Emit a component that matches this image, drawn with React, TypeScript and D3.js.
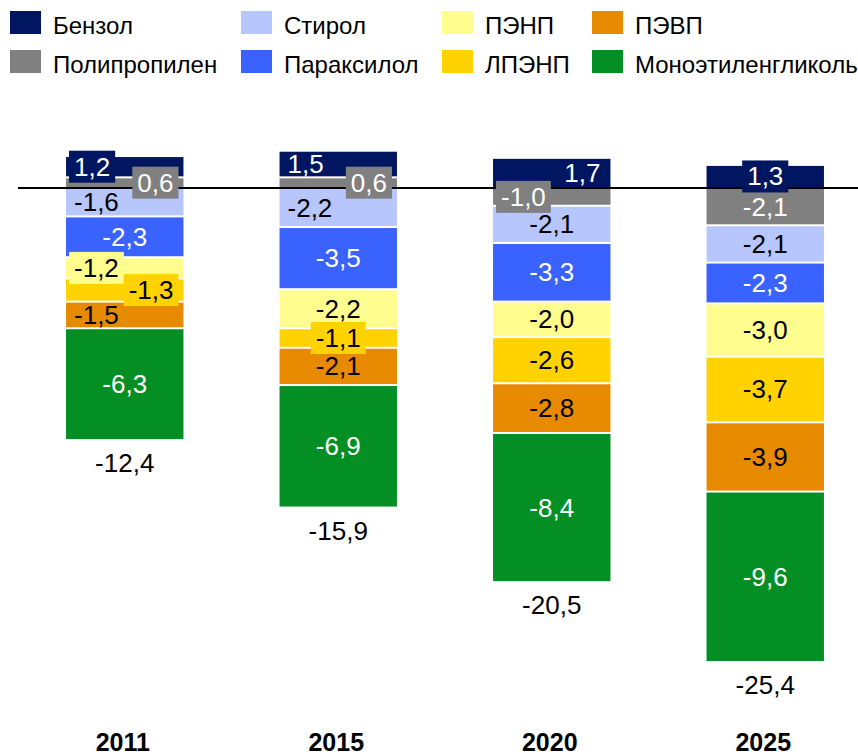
import * as d3 from 'd3';

// categories and series
const years = ['2011', '2015', '2020', '2025'];
const seriesNames = [
  'Бензол',
  'Полипропилен',
  'Стирол',
  'Параксилол',
  'ПЭНП',
  'ЛПЭНП',
  'ПЭВП',
  'Моноэтиленгликоль',
];

// values per series, one per year
const benzene = [1.2, 1.5, 1.7, 1.3];
const polypropylene = [0.6, 0.6, -1.0, -2.1];
const styrene = [-1.6, -2.2, -2.1, -2.1];
const paraxylene = [-2.3, -3.5, -3.3, -2.3];
const ldpe = [-1.2, -2.2, -2.0, -3.0];
const lldpe = [-1.3, -1.1, -2.6, -3.7];
const hdpe = [-1.5, -2.1, -2.8, -3.9];
const meg = [-6.3, -6.9, -8.4, -9.6];

const seriesValues = [benzene, polypropylene, styrene, paraxylene, ldpe, lldpe, hdpe, meg];

// polypropylene sits next to the zero line, benzene stacks on top of it
const stackOrder = [1, 0, 2, 3, 4, 5, 6, 7];

const colors = ['#011660', '#808080', '#B7C6FD', '#3A62FF', '#FFFD8E', '#FFD200', '#E88A00', '#048F25'];
const textColors = ['#fff', '#fff', '#000', '#fff', '#000', '#000', '#000', '#fff'];

// labels that sit off-centre, some with a box in the segment colour
const labelPlacement: [string, number, 'l' | 'r' | 'c', boolean][] = [
  ['2011', 0, 'l', true],
  ['2011', 1, 'r', true],
  ['2011', 2, 'l', false],
  ['2011', 4, 'l', true],
  ['2011', 5, 'r', true],
  ['2011', 6, 'l', false],
  ['2015', 0, 'l', false],
  ['2015', 1, 'r', true],
  ['2015', 2, 'l', false],
  ['2015', 5, 'c', true],
  ['2020', 0, 'r', false],
  ['2020', 1, 'l', true],
  ['2025', 0, 'c', true],
];

const legendCols = [10, 241, 442, 592];
const W = 858;
const H = 754;
const FONT = '"Liberation Sans", Arial, sans-serif';
const FS = 26;

const fmt = (v: number) => v.toFixed(1).replace('.', ',');

export default function App() {
  const table = years.map((yr, i) => {
    const row: Record<string, number | string> = { year: yr };
    seriesNames.forEach((s, k) => (row[s] = seriesValues[k][i]));
    return row;
  });

  const stacked = d3
    .stack<Record<string, number | string>>()
    .keys(seriesNames)
    .value((d, k) => d[k] as number)
    .order(() => stackOrder)
    .offset(d3.stackOffsetDiverging)(table);

  const x = d3.scaleBand<string>().domain(years).range([18, 872]).paddingInner(0.45).paddingOuter(0.225);
  const y = d3.scaleLinear().domain([0, -26.7]).range([188, 662]);

  const totals = years.map((_, i) => d3.sum(seriesValues, (s) => s[i]));
  const bottoms = years.map((_, i) => d3.min(stacked, (s) => s[i][0]) as number);

  // rough text width for Arial-like digits
  const textW = (t: string) =>
    d3.sum(t.split(''), (c) => (c === '-' ? 0.333 : c === ',' ? 0.278 : 0.556)) * FS;

  const placeOf = (yr: string, k: number) => labelPlacement.find((p) => p[0] === yr && p[1] === k);

  const labels: JSX.Element[] = [];
  stacked.forEach((layer, k) => {
    layer.forEach((seg, i) => {
      const yr = years[i];
      const v = seriesValues[k][i];
      const x0 = x(yr)!;
      const bw = x.bandwidth();
      const cy = (y(seg[0]) + y(seg[1])) / 2;
      const txt = fmt(v);
      const tw = textW(txt);
      const p = placeOf(yr, k);
      const align = p ? p[2] : 'c';
      const boxed = p ? p[3] : false;
      let tx = x0 + bw / 2 - tw / 2;
      if (align === 'l') tx = x0 + 8;
      if (align === 'r') tx = x0 + bw - 10 - tw;
      labels.push(
        <g key={`l-${k}-${i}`}>
          {boxed && <rect x={tx - 5} y={cy - 16} width={tw + 10} height={32} fill={colors[k]} />}
          <text x={tx} y={cy + 9} fontSize={FS} fontFamily={FONT} fill={textColors[k]}>
            {txt}
          </text>
        </g>
      );
    });
  });

  return (
    <svg width={W} height={H} style={{ position: 'absolute', left: 0, top: 0, background: '#fff' }}>
      {/* legend */}
      {seriesNames.map((s, k) => {
        const lx = legendCols[Math.floor(k / 2)];
        const ly = k % 2 === 0 ? 11 : 50;
        return (
          <g key={s}>
            <rect x={lx} y={ly} width={31} height={23} fill={colors[k]} />
            <text x={lx + 43} y={ly + 23} fontSize={24} fontFamily={FONT} fill="#000">
              {s}
            </text>
          </g>
        );
      })}

      {/* bars */}
      {stacked.map((layer, k) =>
        layer.map((seg, i) => {
          const top = Math.min(y(seg[0]), y(seg[1]));
          const bot = Math.max(y(seg[0]), y(seg[1]));
          return (
            <rect
              key={`b-${k}-${i}`}
              x={x(years[i])}
              y={top + 1}
              width={x.bandwidth()}
              height={Math.max(0, bot - top - 2)}
              fill={colors[k]}
            />
          );
        })
      )}

      <line x1={18} x2={W} y1={y(0)} y2={y(0)} stroke="#000" strokeWidth={2} />

      {labels}

      {/* totals */}
      {years.map((yr, i) => (
        <text
          key={`t-${yr}`}
          x={x(yr)! + x.bandwidth() / 2}
          y={y(bottoms[i]) + 32}
          textAnchor="middle"
          fontSize={FS}
          fontFamily={FONT}
          fill="#000"
        >
          {fmt(totals[i])}
        </text>
      ))}

      {/* year axis */}
      {years.map((yr) => (
        <text
          key={`y-${yr}`}
          x={x(yr)! + x.bandwidth() / 2 - 2}
          y={751}
          textAnchor="middle"
          fontSize={25}
          fontWeight="bold"
          fontFamily={FONT}
          fill="#000"
        >
          {yr}
        </text>
      ))}
    </svg>
  );
}
